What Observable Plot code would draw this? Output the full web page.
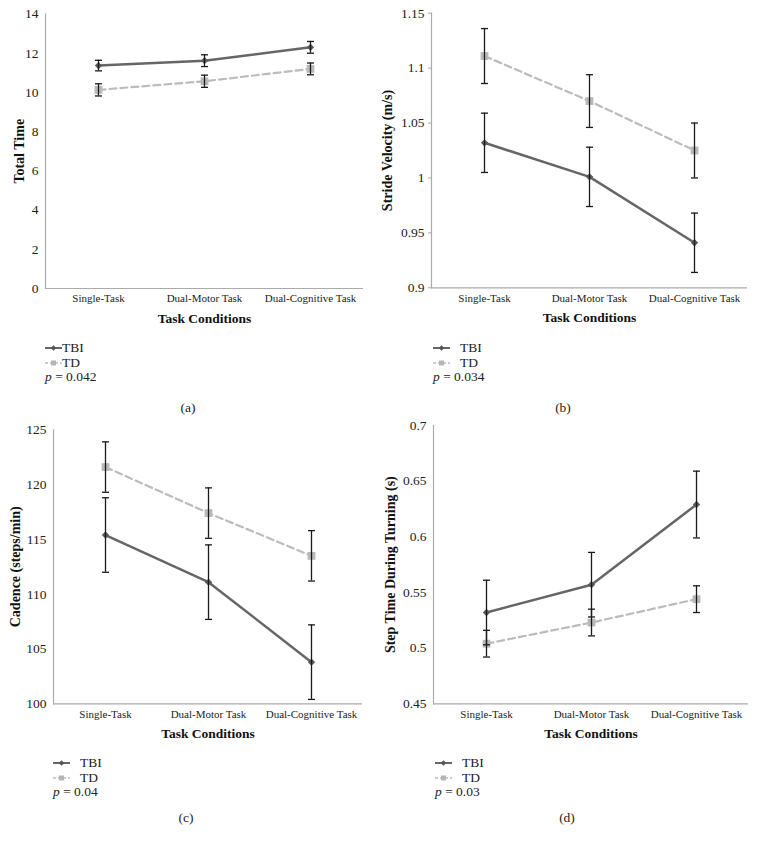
<!DOCTYPE html>
<html><head><meta charset="utf-8">
<script src="https://cdn.jsdelivr.net/npm/d3@7"></script>
<script src="https://cdn.jsdelivr.net/npm/@observablehq/plot@0.6"></script>
<style>
body{margin:0;background:#fff;font-family:"Liberation Serif","DejaVu Serif",serif;color:#222;}
#page{position:relative;width:763px;height:844px;overflow:hidden;}
.panel{position:absolute;}
.panel svg{display:block;}
.lg{position:absolute;font-size:13.5px;line-height:14px;white-space:nowrap;transform:translateY(-50%);z-index:2;}
.cap{position:absolute;font-size:13.5px;transform:translate(-50%,-50%);white-space:nowrap;z-index:2;}
</style></head><body><div id="page"></div>
<script>
const categories = ["Single-Task", "Dual-Motor Task", "Dual-Cognitive Task"];
const groups = ["TBI", "TD"];
const xTitle = "Task Conditions";

// (a) Total Time
const totalTimeTBI = [11.37, 11.62, 12.30];
const totalTimeTBIErr = [0.27, 0.30, 0.30];
const totalTimeTD = [10.13, 10.57, 11.20];
const totalTimeTDErr = [0.31, 0.31, 0.30];
const totalTimeTicks = [0, 2, 4, 6, 8, 10, 12, 14];

// (b) Stride Velocity
const velocityTBI = [1.032, 1.001, 0.941];
const velocityTBIErr = [0.027, 0.027, 0.027];
const velocityTD = [1.111, 1.070, 1.025];
const velocityTDErr = [0.025, 0.024, 0.025];
const velocityTicks = [0.9, 0.95, 1, 1.05, 1.1, 1.15];

// (c) Cadence
const cadenceTBI = [115.4, 111.1, 103.8];
const cadenceTBIErr = [3.4, 3.4, 3.4];
const cadenceTD = [121.6, 117.4, 113.5];
const cadenceTDErr = [2.3, 2.3, 2.3];
const cadenceTicks = [100, 105, 110, 115, 120, 125];

// (d) Step Time During Turning
const stepTimeTBI = [0.532, 0.557, 0.629];
const stepTimeTBIErr = [0.029, 0.029, 0.030];
const stepTimeTD = [0.504, 0.523, 0.544];
const stepTimeTDErr = [0.012, 0.012, 0.012];
const stepTimeTicks = [0.45, 0.5, 0.55, 0.6, 0.65, 0.7];

const yLabels = ["Total Time", "Stride Velocity (m/s)", "Cadence (steps/min)", "Step Time During Turning (s)"];
const pValues = ["0.042", "0.034", "0.04", "0.03"];
const panelLetters = ["(a)", "(b)", "(c)", "(d)"];

function buildRows(tbi, tbiErr, td, tdErr) {
  const rows = [];
  categories.forEach((c, i) => {
    rows.push({cat: c, group: "TBI", v: tbi[i], lo: tbi[i] - tbiErr[i], hi: tbi[i] + tbiErr[i]});
    rows.push({cat: c, group: "TD", v: td[i], lo: td[i] - tdErr[i], hi: td[i] + tdErr[i]});
  });
  return rows;
}

const TBI_COLOR = "#666666", TD_COLOR = "#bcbcbc", AXIS = "#ababab";
const capSymbol = {draw(ctx, size) { const r = Math.sqrt(size / Math.PI); ctx.moveTo(-r, 0); ctx.lineTo(r, 0); }};

const panels = [
  {left: 0, top: 0, w: 380, h: 330, m: [13.5, 17, 42, 45], rows: buildRows(totalTimeTBI, totalTimeTBIErr, totalTimeTD, totalTimeTDErr), ticks: totalTimeTicks, tick: 0, ylx: 19, lgx: 45, lgt: 62, lgy: 348, capx: 188, capy: 408},
  {left: 380, top: 0, w: 383, h: 330, m: [12.7, 16, 42.7, 51], rows: buildRows(velocityTBI, velocityTBIErr, velocityTD, velocityTDErr), ticks: velocityTicks, tick: 3, ylx: 7, lgx: 53, lgt: 80, lgy: 348, capx: 183, capy: 408},
  {left: 0, top: 410, w: 380, h: 335, m: [19.3, 18, 41.7, 53], rows: buildRows(cadenceTBI, cadenceTBIErr, cadenceTD, cadenceTDErr), ticks: cadenceTicks, tick: 0, ylx: 15, lgx: 53, lgt: 80, lgy: 353, capx: 186, capy: 408},
  {left: 380, top: 410, w: 383, h: 335, m: [15, 15, 41.7, 53], rows: buildRows(stepTimeTBI, stepTimeTBIErr, stepTimeTD, stepTimeTDErr), ticks: stepTimeTicks, tick: 0, ylx: 10, lgx: 55, lgt: 82, lgy: 353, capx: 187, capy: 408}
];

const page = document.getElementById("page");

function sample(group) {
  const ns = "http://www.w3.org/2000/svg";
  const s = document.createElementNS(ns, "svg");
  s.setAttribute("width", 17); s.setAttribute("height", 8);
  s.style.position = "absolute";
  s.style.zIndex = 2;
  const l = document.createElementNS(ns, "line");
  l.setAttribute("x1", 0); l.setAttribute("x2", 17); l.setAttribute("y1", 4); l.setAttribute("y2", 4);
  l.setAttribute("stroke", group === "TBI" ? TBI_COLOR : TD_COLOR);
  l.setAttribute("stroke-width", group === "TBI" ? 2 : 1.6);
  if (group === "TD") l.setAttribute("stroke-dasharray", "3,2");
  s.appendChild(l);
  const mk = document.createElementNS(ns, "rect");
  if (group === "TBI") { mk.setAttribute("x", 6.5); mk.setAttribute("y", 2); mk.setAttribute("width", 4); mk.setAttribute("height", 4); mk.setAttribute("transform", "rotate(45 8.5 4)"); mk.setAttribute("fill", "#555"); }
  else { mk.setAttribute("x", 6); mk.setAttribute("y", 1.5); mk.setAttribute("width", 5); mk.setAttribute("height", 5); mk.setAttribute("fill", "#b5b5b5"); }
  s.appendChild(mk);
  return s;
}

panels.forEach((p, k) => {
  const div = document.createElement("div");
  div.className = "panel";
  div.style.left = p.left + "px"; div.style.top = p.top + "px";
  div.style.width = p.w + "px"; div.style.height = (k < 2 ? 410 : 434) + "px";
  const [mt, mr, mb, ml] = p.m;
  const tbi = p.rows.filter(d => d.group === "TBI");
  const td = p.rows.filter(d => d.group === "TD");
  const chart = Plot.plot({
    width: p.w, height: p.h,
    marginTop: mt, marginRight: mr, marginBottom: mb, marginLeft: ml,
    style: {fontFamily: '"Liberation Serif", "DejaVu Serif", serif', fontSize: "13px", color: "#222", background: "transparent", overflow: "visible"},
    x: {type: "point", domain: categories, padding: 0.5},
    y: {domain: [p.ticks[0], p.ticks[p.ticks.length - 1]]},
    marks: [
      Plot.ruleY([p.ticks[0]], {stroke: AXIS, strokeWidth: 1.2}),
      Plot.frame({anchor: "left", stroke: AXIS, strokeWidth: 1.2}),
      Plot.axisY({ticks: p.ticks, tickSize: p.tick, tickPadding: 7 - p.tick, stroke: AXIS, tickFormat: d => String(+d.toFixed(2)), label: null, fontSize: 13.5}),
      Plot.axisX({tickSize: 0, tickPadding: 6, label: null, fontSize: 11}),
      Plot.line(td, {x: "cat", y: "v", stroke: TD_COLOR, strokeWidth: 2.2, strokeDasharray: "7,4"}),
      Plot.line(tbi, {x: "cat", y: "v", stroke: TBI_COLOR, strokeWidth: 2.5}),
      Plot.dot(td, {x: "cat", y: "v", symbol: "square", r: 4.4, fill: "#b9b9b9"}),
      Plot.dot(tbi, {x: "cat", y: "v", symbol: "diamond2", r: 3.3, fill: "#5a5a5a"}),
      Plot.ruleX(p.rows, {x: "cat", y1: "lo", y2: "hi", stroke: "#1a1a1a", strokeWidth: 1.3}),
      Plot.dot(p.rows, {x: "cat", y: "lo", symbol: capSymbol, r: 3.5, fill: "none", stroke: "#1a1a1a", strokeWidth: 1.3}),
      Plot.dot(p.rows, {x: "cat", y: "hi", symbol: capSymbol, r: 3.5, fill: "none", stroke: "#1a1a1a", strokeWidth: 1.3}),
      Plot.text([yLabels[k]], {text: d => d, frameAnchor: "left", textAnchor: "middle", lineAnchor: "middle", rotate: -90, dx: p.ylx - ml, fontWeight: "bold", fontSize: 14, fill: "#111"}),
      Plot.text([xTitle], {text: d => d, frameAnchor: "bottom", textAnchor: "middle", lineAnchor: "middle", dy: 30, fontWeight: "bold", fontSize: 13.5, fill: "#111"})
    ]
  });
  div.appendChild(chart);

  groups.forEach((g, j) => {
    const y = p.lgy + j * 14.5;
    const s = sample(g);
    s.style.left = p.lgx + "px"; s.style.top = (y - 4) + "px";
    div.appendChild(s);
    const t = document.createElement("div");
    t.className = "lg"; t.textContent = g;
    t.style.left = p.lgt + "px"; t.style.top = y + "px";
    div.appendChild(t);
  });
  const pt = document.createElement("div");
  pt.className = "lg";
  pt.innerHTML = '<i>p</i> = ' + pValues[k];
  pt.style.left = p.lgx + "px"; pt.style.top = (p.lgy + 29) + "px";
  div.appendChild(pt);

  const cap = document.createElement("div");
  cap.className = "cap"; cap.textContent = panelLetters[k];
  cap.style.left = p.capx + "px"; cap.style.top = p.capy + "px";
  div.appendChild(cap);

  page.appendChild(div);
});
</script>
</body></html>
